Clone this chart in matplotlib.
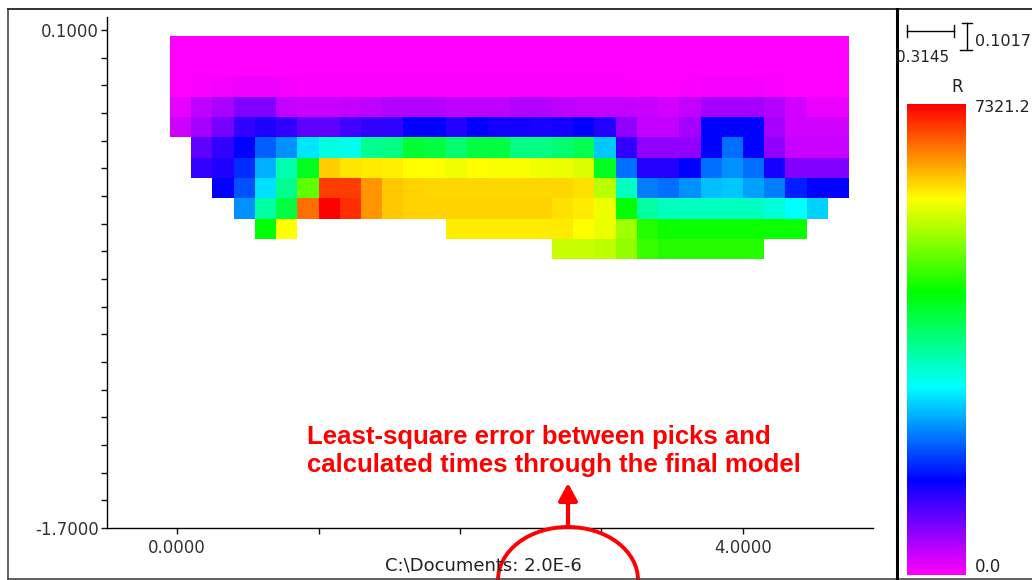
import numpy as np
import matplotlib.pyplot as plt
from matplotlib.colors import LinearSegmentedColormap
from matplotlib.patches import Ellipse

nan = np.nan

# inverted model, resistivity per cell; top layer first, 32 columns left to right
r_rows = [
    [0] * 32,
    [0, 10, 20, 20, 20, 10, 0, 0, 0, 0, 0, 0, 0, 0, 0, 0,
     0, 0, 0, 0, 0, 0, 0, 0, 10, 10, 10, 10, 0, 0, 0, 0],
    [20, 50, 80, 110, 110, 80, 50, 50, 50, 50, 50, 50, 50, 50, 50, 50,
     50, 50, 50, 50, 50, 30, 20, 20, 30, 60, 60, 60, 50, 20, 20, 20],
    [150, 400, 500, 730, 730, 360, 320, 320, 360, 400, 450, 450, 450, 400, 400, 400,
     450, 450, 400, 360, 360, 360, 320, 270, 360, 540, 540, 540, 450, 270, 130, 130],
    [300, 540, 800, 1190, 1300, 1190, 920, 920, 1100, 1190, 1190, 1460, 1460, 1280, 1460, 1370,
     1370, 1320, 1370, 1460, 1280, 640, 360, 360, 540, 1460, 1460, 1460, 540, 270, 270, 270],
    [nan, 920, 1190, 1460, 2010, 2290, 2800, 3100, 3050, 3570, 3660, 4110, 4030, 3750, 4030, 4030,
     3660, 3660, 3750, 3930, 2610, 1190, 640, 640, 640, 1460, 2110, 1460, 640, 320, 320, 320],
    [nan, 1190, 1300, 1740, 2470, 3380, 4210, 6130, 5990, 5960, 5945, 5857, 5857, 5770, 5857, 5810,
     5810, 5770, 5725, 5640, 4210, 2110, 1280, 1280, 1460, 2110, 2290, 2110, 1370, 730, 730, 730],
    [nan, nan, 1460, 1925, 2750, 3570, 4940, 6955, 6955, 6440, 6150, 6100, 6080, 6080, 6080, 6080,
     6080, 6080, 6080, 6030, 5450, 3290, 2200, 2110, 2290, 2560, 2610, 2380, 2200, 1650, 1460, 1460],
    [nan, nan, nan, 2290, 3470, 4030, 6680, 7321, 7040, 6440, 6150, 6100, 6100, 6100, 6100, 6100,
     6100, 6100, 6030, 5960, 5770, 4400, 3470, 3290, 3290, 3290, 3290, 3290, 3150, 2930, 2660, nan],
    [nan, nan, nan, nan, 4390, 5857, nan, nan, nan, nan, nan, nan, nan, 5960, 5960, 5960,
     5960, 5960, 5960, 5857, 5725, 5315, 4580, 4450, 4450, 4450, 4450, 4450, 4450, 4450, nan, nan],
    [nan] * 18 + [5540, 5540, 5490, 5220, 4700, 4580, 4580, 4580, 4580, 4580, nan, nan, nan, nan],
]
r_min, r_max = 0.0, 7321.2

x_ticklabels = ['0.0000', '4.0000']
y_ticklabels = ['-1.7000', '0.1000']
note = 'Least-square error between picks and\ncalculated times through the final model'
status = 'C:\\Documents: 2.0E-6'

# model grid
x_edges = np.linspace(-0.05, 4.75, 33)
y_edges = np.linspace(0.08, -0.729, 12)
R = np.ma.masked_invalid(np.array(r_rows, dtype=float))

cmap = LinearSegmentedColormap.from_list('hue_r', [
    (0.0, '#ff00ff'), (0.2, '#0000ff'), (0.4, '#00ffff'),
    (0.6, '#00ff00'), (0.8, '#ffff00'), (1.0, '#ff0000')])

W, H = 1032, 580
fig = plt.figure(figsize=(W / 100, H / 100), dpi=100)

ax = fig.add_axes([107 / W, 52 / H, 766 / W, 511 / H])
mesh = ax.pcolormesh(x_edges, y_edges, R, cmap=cmap, vmin=r_min, vmax=r_max)
ax.set_xlim(-0.495, 4.919)
ax.set_ylim(-1.7, 0.147)
for s in ['top', 'right']:
    ax.spines[s].set_visible(False)
for s in ['left', 'bottom']:
    ax.spines[s].set_linewidth(1.0)
ax.set_xticks([0, 4])
ax.set_xticklabels(x_ticklabels)
ax.set_xticks([1, 2, 3], minor=True)
ax.set_yticks([-1.7, 0.1])
ax.set_yticklabels(y_ticklabels)
ax.set_yticks(np.linspace(-1.6, 0.0, 17), minor=True)
ax.tick_params(which='both', direction='out', length=4, width=1.0, colors='#111',
               labelsize=12, labelcolor='#333')
ax.tick_params(axis='x', pad=4)
ax.tick_params(axis='y', pad=2)

# colour scale
cax = fig.add_axes([907 / W, 5 / H, 59 / W, 471 / H])
cb = fig.colorbar(mesh, cax=cax)
cb.outline.set_visible(False)
cax.set_yticks([])

# frame, scale bars and labels in pixel coordinates
ov = fig.add_axes([0, 0, 1, 1], zorder=5)
ov.patch.set_alpha(0)
ov.axis('off')
ov.set_xlim(0, W)
ov.set_ylim(H, 0)

ov.plot([8, 8], [9, 579], color='#444', lw=1.2)
ov.plot([8, W], [9, 9], color='#333', lw=1.4)
ov.plot([8, W], [579, 579], color='#444', lw=1.2)
ov.plot([897, 897], [9, H], color='k', lw=2.2, zorder=4)

ov.plot([907, 954], [31, 31], color='k', lw=1)
ov.plot([907, 907], [25, 37], color='k', lw=1)
ov.plot([954, 954], [25, 37], color='k', lw=1)
ov.plot([967, 967], [23, 50], color='k', lw=1)
ov.plot([962, 972], [23, 23], color='k', lw=1)
ov.plot([960, 972], [50, 50], color='k', lw=1)
ov.text(923, 57, '0.3145', ha='center', va='center', fontsize=11, color='#222', zorder=3)
ov.text(975, 41, '0.1017', ha='left', va='center', fontsize=11.5, color='#222')
ov.text(957, 87, 'R', ha='center', va='center', fontsize=12, color='#222')
ov.text(975, 108, '7321.2', ha='left', va='center', fontsize=11.5, color='#222')
ov.text(975, 567, '0.0', ha='left', va='center', fontsize=12, color='#222')
ov.text(385, 566, status, ha='left', va='center', fontsize=13, color='#222')

ov.text(307, 451, note, ha='left', va='center', fontsize=18.5, fontweight='bold',
        family='Liberation Sans', color='#ff0000', linespacing=1.2)
ov.annotate('', xy=(568, 483), xytext=(568, 527),
            arrowprops=dict(arrowstyle='-|>,head_length=0.7,head_width=0.38',
                            color='#ff0000', lw=3, mutation_scale=15,
                            shrinkA=0, shrinkB=0))
ov.add_patch(Ellipse((568, 580), 140, 106, fill=False, ec='#ff0000', lw=2.8))

fig.savefig('out.png', dpi=100)
